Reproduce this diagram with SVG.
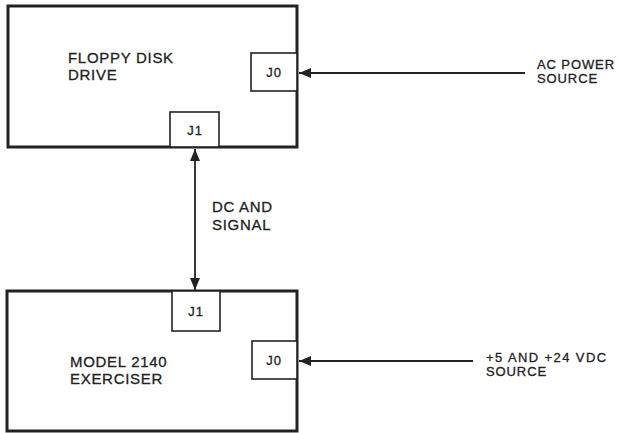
<svg xmlns="http://www.w3.org/2000/svg" width="618" height="433" viewBox="0 0 618 433">
<defs>
<style>
.box{fill:none;stroke:#222;stroke-width:3}
.port{fill:#fff;stroke:#222;stroke-width:1.6}
.t{font-family:"Liberation Sans",Arial,sans-serif;fill:#222;stroke:#222;stroke-width:0.3}
.lbl{font-size:15px;letter-spacing:0.7px}
.side{font-size:13px;letter-spacing:0.9px}
.pt{font-size:13px;letter-spacing:1px;text-anchor:middle}
.wire{stroke:#222;stroke-width:1.8;fill:none}
</style>
<marker id="ah" viewBox="0 0 12 10" refX="12" refY="5" markerWidth="12" markerHeight="10" markerUnits="userSpaceOnUse" orient="auto-start-reverse">
<path d="M0,0 L12,5 L0,10 z" fill="#222"/>
</marker>
</defs>
<rect width="618" height="433" fill="#fff"/>
<g id="floppy">
<rect class="box" x="8" y="6" width="289" height="141"/>
<text class="t lbl" x="68" y="63">FLOPPY DISK</text>
<text class="t lbl" x="68" y="80">DRIVE</text>
</g>
<g id="floppy-j0">
<rect class="port" x="251" y="53" width="46" height="38"/>
<text class="t pt" x="274" y="77">J0</text>
</g>
<g id="floppy-j1">
<rect class="port" x="170" y="112" width="49" height="35"/>
<text class="t pt" x="195" y="135">J1</text>
</g>
<g id="exerciser">
<rect class="box" x="7" y="291" width="290" height="140"/>
<text class="t lbl" x="70" y="367">MODEL 2140</text>
<text class="t lbl" x="70" y="384">EXERCISER</text>
</g>
<g id="exerciser-j1">
<rect class="port" x="172" y="291" width="48" height="40"/>
<text class="t pt" x="196" y="316">J1</text>
</g>
<g id="exerciser-j0">
<rect class="port" x="252" y="341" width="45" height="38"/>
<text class="t pt" x="274" y="365">J0</text>
</g>
<g id="ac-source">
<text class="t side" x="537" y="69">AC POWER</text>
<text class="t side" x="537" y="83">SOURCE</text>
</g>
<g id="dc-source">
<text class="t side" x="486" y="362" style="letter-spacing:1.4px">+5 AND +24 VDC</text>
<text class="t side" x="486" y="376">SOURCE</text>
</g>
<g id="connectors">
<line class="wire" x1="525" y1="73" x2="299" y2="73" marker-end="url(#ah)"/>
<line class="wire" x1="473" y1="361" x2="299" y2="361" marker-end="url(#ah)"/>
<line class="wire" x1="195" y1="149" x2="195" y2="290" marker-start="url(#ah)" marker-end="url(#ah)"/>
<text class="t lbl" x="212" y="212">DC AND</text>
<text class="t lbl" x="212" y="230">SIGNAL</text>
</g>
</svg>
